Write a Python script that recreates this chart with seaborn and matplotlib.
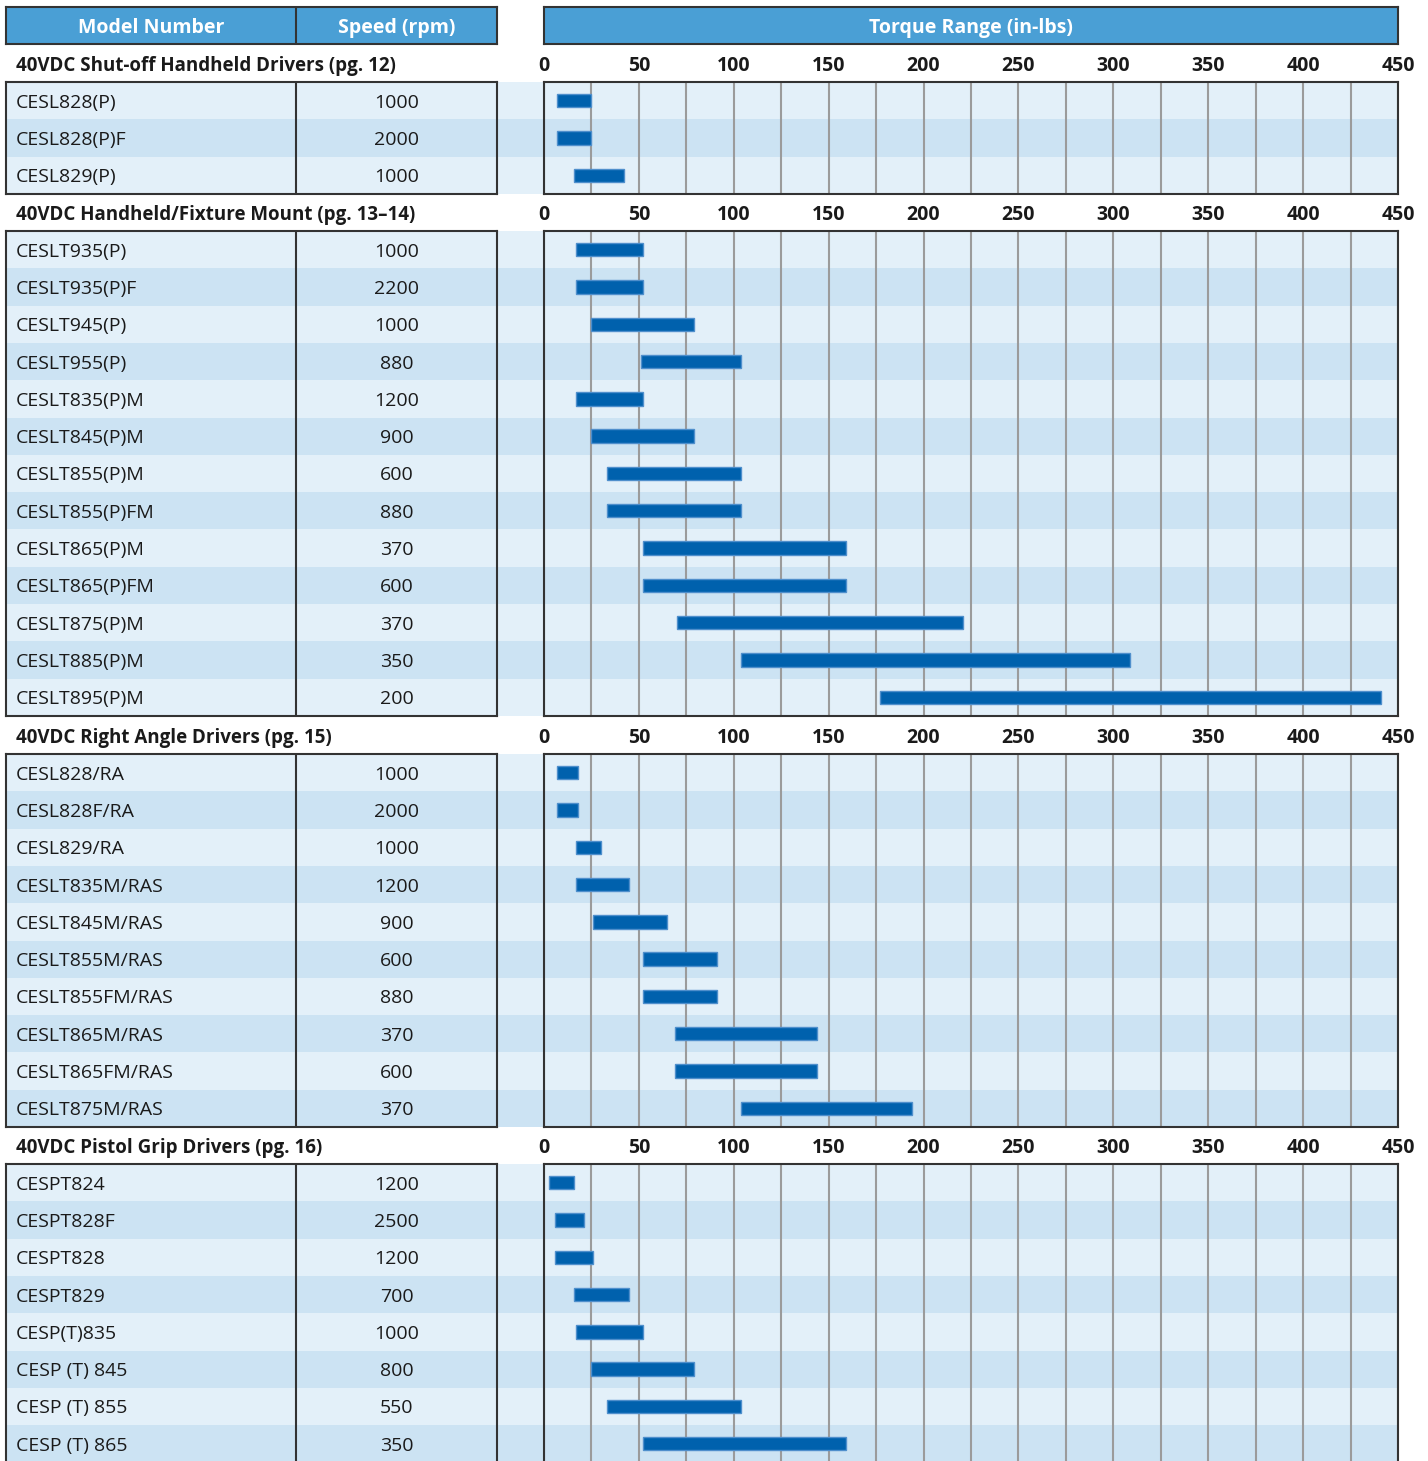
import numpy as np
import pandas as pd
import matplotlib.pyplot as plt
import seaborn as sns

# --- data ---
section_titles = [
    "40VDC Shut-off Handheld Drivers (pg. 12)",
    "40VDC Handheld/Fixture Mount (pg. 13–14)",
    "40VDC Right Angle Drivers (pg. 15)",
    "40VDC Pistol Grip Drivers (pg. 16)",
]

models_1 = ["CESL828(P)", "CESL828(P)F", "CESL829(P)"]
speeds_1 = [1000, 2000, 1000]
low_1 = [7, 7, 16]
high_1 = [25, 25, 42]

models_2 = ["CESLT935(P)", "CESLT935(P)F", "CESLT945(P)", "CESLT955(P)",
            "CESLT835(P)M", "CESLT845(P)M", "CESLT855(P)M", "CESLT855(P)FM",
            "CESLT865(P)M", "CESLT865(P)FM", "CESLT875(P)M", "CESLT885(P)M",
            "CESLT895(P)M"]
speeds_2 = [1000, 2200, 1000, 880, 1200, 900, 600, 880, 370, 600, 370, 350, 200]
low_2 = [17, 17, 25, 51, 17, 25, 33, 33, 52, 52, 70, 104, 177]
high_2 = [52, 52, 79, 104, 52, 79, 104, 104, 159, 159, 221, 309, 441]

models_3 = ["CESL828/RA", "CESL828F/RA", "CESL829/RA", "CESLT835M/RAS",
            "CESLT845M/RAS", "CESLT855M/RAS", "CESLT855FM/RAS", "CESLT865M/RAS",
            "CESLT865FM/RAS", "CESLT875M/RAS"]
speeds_3 = [1000, 2000, 1000, 1200, 900, 600, 880, 370, 600, 370]
low_3 = [7, 7, 17, 17, 26, 52, 52, 69, 69, 104]
high_3 = [18, 18, 30, 45, 65, 91, 91, 144, 144, 194]

models_4 = ["CESPT824", "CESPT828F", "CESPT828", "CESPT829", "CESP(T)835",
            "CESP (T) 845", "CESP (T) 855", "CESP (T) 865"]
speeds_4 = [1200, 2500, 1200, 700, 1000, 800, 550, 350]
low_4 = [2.5, 6, 6, 16, 17, 25, 33, 52]
high_4 = [16, 21, 26, 45, 52, 79, 104, 159]

torque_ticks = list(range(0, 451, 50))

sections = [
    (section_titles[0], models_1, speeds_1, low_1, high_1),
    (section_titles[1], models_2, speeds_2, low_2, high_2),
    (section_titles[2], models_3, speeds_3, low_3, high_3),
    (section_titles[3], models_4, speeds_4, low_4, high_4),
]

# --- style ---
sns.set_theme(style="white")
plt.rcParams["font.family"] = ["Open Sans", "DejaVu Sans"]

W, H = 1428, 1461
fig = plt.figure(figsize=(W / 100, H / 100), dpi=100)

head_blue = "#4a9fd5"
band_light = "#e3f0f9"
band_dark = "#cce3f3"
bar_blue = "#0061ad"
edge = "#333333"
grid_col = "#9b9b9b"
fs = 14


def px_axes(x0, y0, x1, y1):
    return fig.add_axes([x0 / W, 1 - y1 / H, (x1 - x0) / W, (y1 - y0) / H])


def boxed(ax, lw=1.5):
    ax.set_xticks([])
    ax.set_yticks([])
    for s in ax.spines.values():
        s.set_visible(True)
        s.set_color(edge)
        s.set_linewidth(lw)


# header row
hdr = px_axes(6, 7, 497, 44)
hdr.set_facecolor(head_blue)
hdr.set_xlim(6, 497)
hdr.set_ylim(1, 0)
boxed(hdr)
hdr.axvline(296, color=edge, lw=1.5)
hdr.text(151, 0.56, "Model Number", color="white", weight="bold", fontsize=fs,
         ha="center", va="center")
hdr.text(396.5, 0.56, "Speed (rpm)", color="white", weight="bold", fontsize=fs,
         ha="center", va="center")

hdr2 = px_axes(544, 7, 1398, 44)
hdr2.set_facecolor(head_blue)
boxed(hdr2)
hdr2.text(0.5, 0.44, "Torque Range (in-lbs)", color="white", weight="bold",
          fontsize=fs, ha="center", va="center", transform=hdr2.transAxes)

row_h = 37.3
tops = [82, 231, 754, 1164]
dy = 2 / row_h  # nudge text down to match reference baseline

for top, (title, models, speeds, low, high) in zip(tops, sections):
    n = len(models)
    bottom = top + n * row_h

    # alternating row bands across the whole width
    bg = px_axes(6, top, 1398, bottom)
    bg.set_ylim(n, 0)
    bg.set_xlim(0, 1)
    for i in range(n):
        bg.axhspan(i, i + 1, color=band_light if i % 2 == 0 else band_dark, lw=0)
    bg.axis("off")

    # table part
    tab = px_axes(6, top, 497, bottom)
    tab.patch.set_alpha(0)
    tab.set_xlim(6, 497)
    tab.set_ylim(n, 0)
    boxed(tab)
    tab.axvline(296, color=edge, lw=1.5)
    for i, (m, s) in enumerate(zip(models, speeds)):
        tab.text(16, i + 0.5 + dy, m, fontsize=fs, ha="left", va="center",
                 color="#1a1a1a")
        tab.text(396.5, i + 0.5 + dy, str(s), fontsize=fs, ha="center",
                 va="center", color="#1a1a1a")

    fig.text(16 / W, 1 - (top - 16) / H, title, fontsize=13.5, weight="bold",
             ha="left", va="center", color="#1a1a1a")

    # torque range bars
    df = pd.DataFrame({"model": models, "low": low, "high": high})
    df["span"] = df["high"] - df["low"]
    ch = px_axes(544, top, 1398, bottom)
    ch.patch.set_alpha(0)
    sns.barplot(data=df, y="model", x="span", left=df["low"].to_numpy(),
                color=bar_blue, width=0.36, saturation=1, ax=ch,
                edgecolor="#4f8fcc", linewidth=1, zorder=3)
    ch.set_xlim(0, 450)
    ch.set_ylim(n - 0.5, -0.5)
    ch.set_xlabel("")
    ch.set_ylabel("")
    ch.set_yticks([])
    ch.set_xticks(torque_ticks)
    ch.set_xticks(np.arange(25, 450, 50), minor=True)
    ch.xaxis.tick_top()
    ch.tick_params(axis="x", which="both", length=0, pad=4, labelsize=fs,
                   labelcolor="#1a1a1a")
    for lab in ch.get_xticklabels():
        lab.set_fontweight("bold")
    ch.grid(True, axis="x", which="both", color=grid_col, lw=1.5, zorder=1)
    for s in ch.spines.values():
        s.set_visible(True)
        s.set_color(edge)
        s.set_linewidth(1.5)

fig.savefig("out.png", dpi=100)
